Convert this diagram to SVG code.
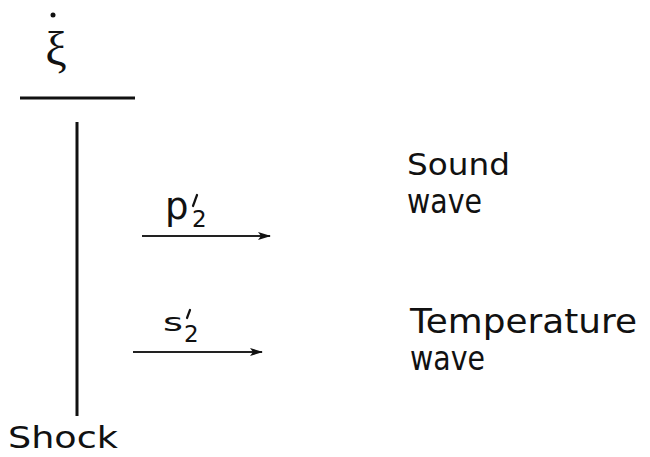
<svg xmlns="http://www.w3.org/2000/svg" width="650" height="457" viewBox="0 0 650 457">
<defs>
<style>
.t{font-family:"DejaVu Sans","Liberation Sans",sans-serif;fill:#111;}
.ln{stroke:#111;stroke-width:3;fill:none;}
.ar{stroke:#222;stroke-width:2;fill:none;}
.pr{stroke:#111;stroke-width:2.2;fill:none;stroke-linecap:round;}
</style>
<marker id="ah" markerWidth="14" markerHeight="10" refX="12" refY="5" orient="auto" markerUnits="userSpaceOnUse">
<path d="M0,1 L13,5 L0,9 L3,5 Z" fill="#111"/>
</marker>
</defs>
<rect width="650" height="457" fill="#fff"/>
<g id="xi-dot">
<circle cx="53" cy="15" r="2.5" fill="#111"/>
<text x="56" y="65" font-size="48" text-anchor="middle" font-family="Liberation Serif,serif" fill="#111">ξ</text>
<line class="ln" x1="20" y1="98" x2="135" y2="98"/>
</g>
<g id="shock">
<line class="ln" x1="77" y1="122" x2="77" y2="416"/>
<text class="t" x="8" y="448" font-size="31" textLength="110" lengthAdjust="spacingAndGlyphs">Shock</text>
</g>
<g id="connectors">
<line class="ar" x1="142" y1="236" x2="270" y2="236" marker-end="url(#ah)"/>
<line class="ar" x1="133" y1="352" x2="262" y2="352" marker-end="url(#ah)"/>
</g>
<g id="p2">
<text class="t" x="165" y="219" font-size="37">p</text>
<line class="pr" x1="197" y1="195" x2="193" y2="206"/>
<text class="t" x="192" y="227" font-size="23">2</text>
</g>
<g id="s2">
<text class="t" x="163" y="331" font-size="25" textLength="20" lengthAdjust="spacingAndGlyphs" transform="translate(0,0)">s</text>
<line class="pr" x1="190" y1="310" x2="187" y2="318"/>
<text class="t" x="184" y="342" font-size="23">2</text>
</g>
<g id="sound">
<text class="t" x="407" y="175" font-size="31" textLength="103" lengthAdjust="spacingAndGlyphs">Sound</text>
<text class="t" x="407" y="213" font-size="33" textLength="75" lengthAdjust="spacingAndGlyphs">wave</text>
</g>
<g id="temp">
<text class="t" x="410" y="333" font-size="33" textLength="227" lengthAdjust="spacingAndGlyphs">Temperature</text>
<text class="t" x="410" y="370" font-size="33" textLength="75" lengthAdjust="spacingAndGlyphs">wave</text>
</g>
</svg>
